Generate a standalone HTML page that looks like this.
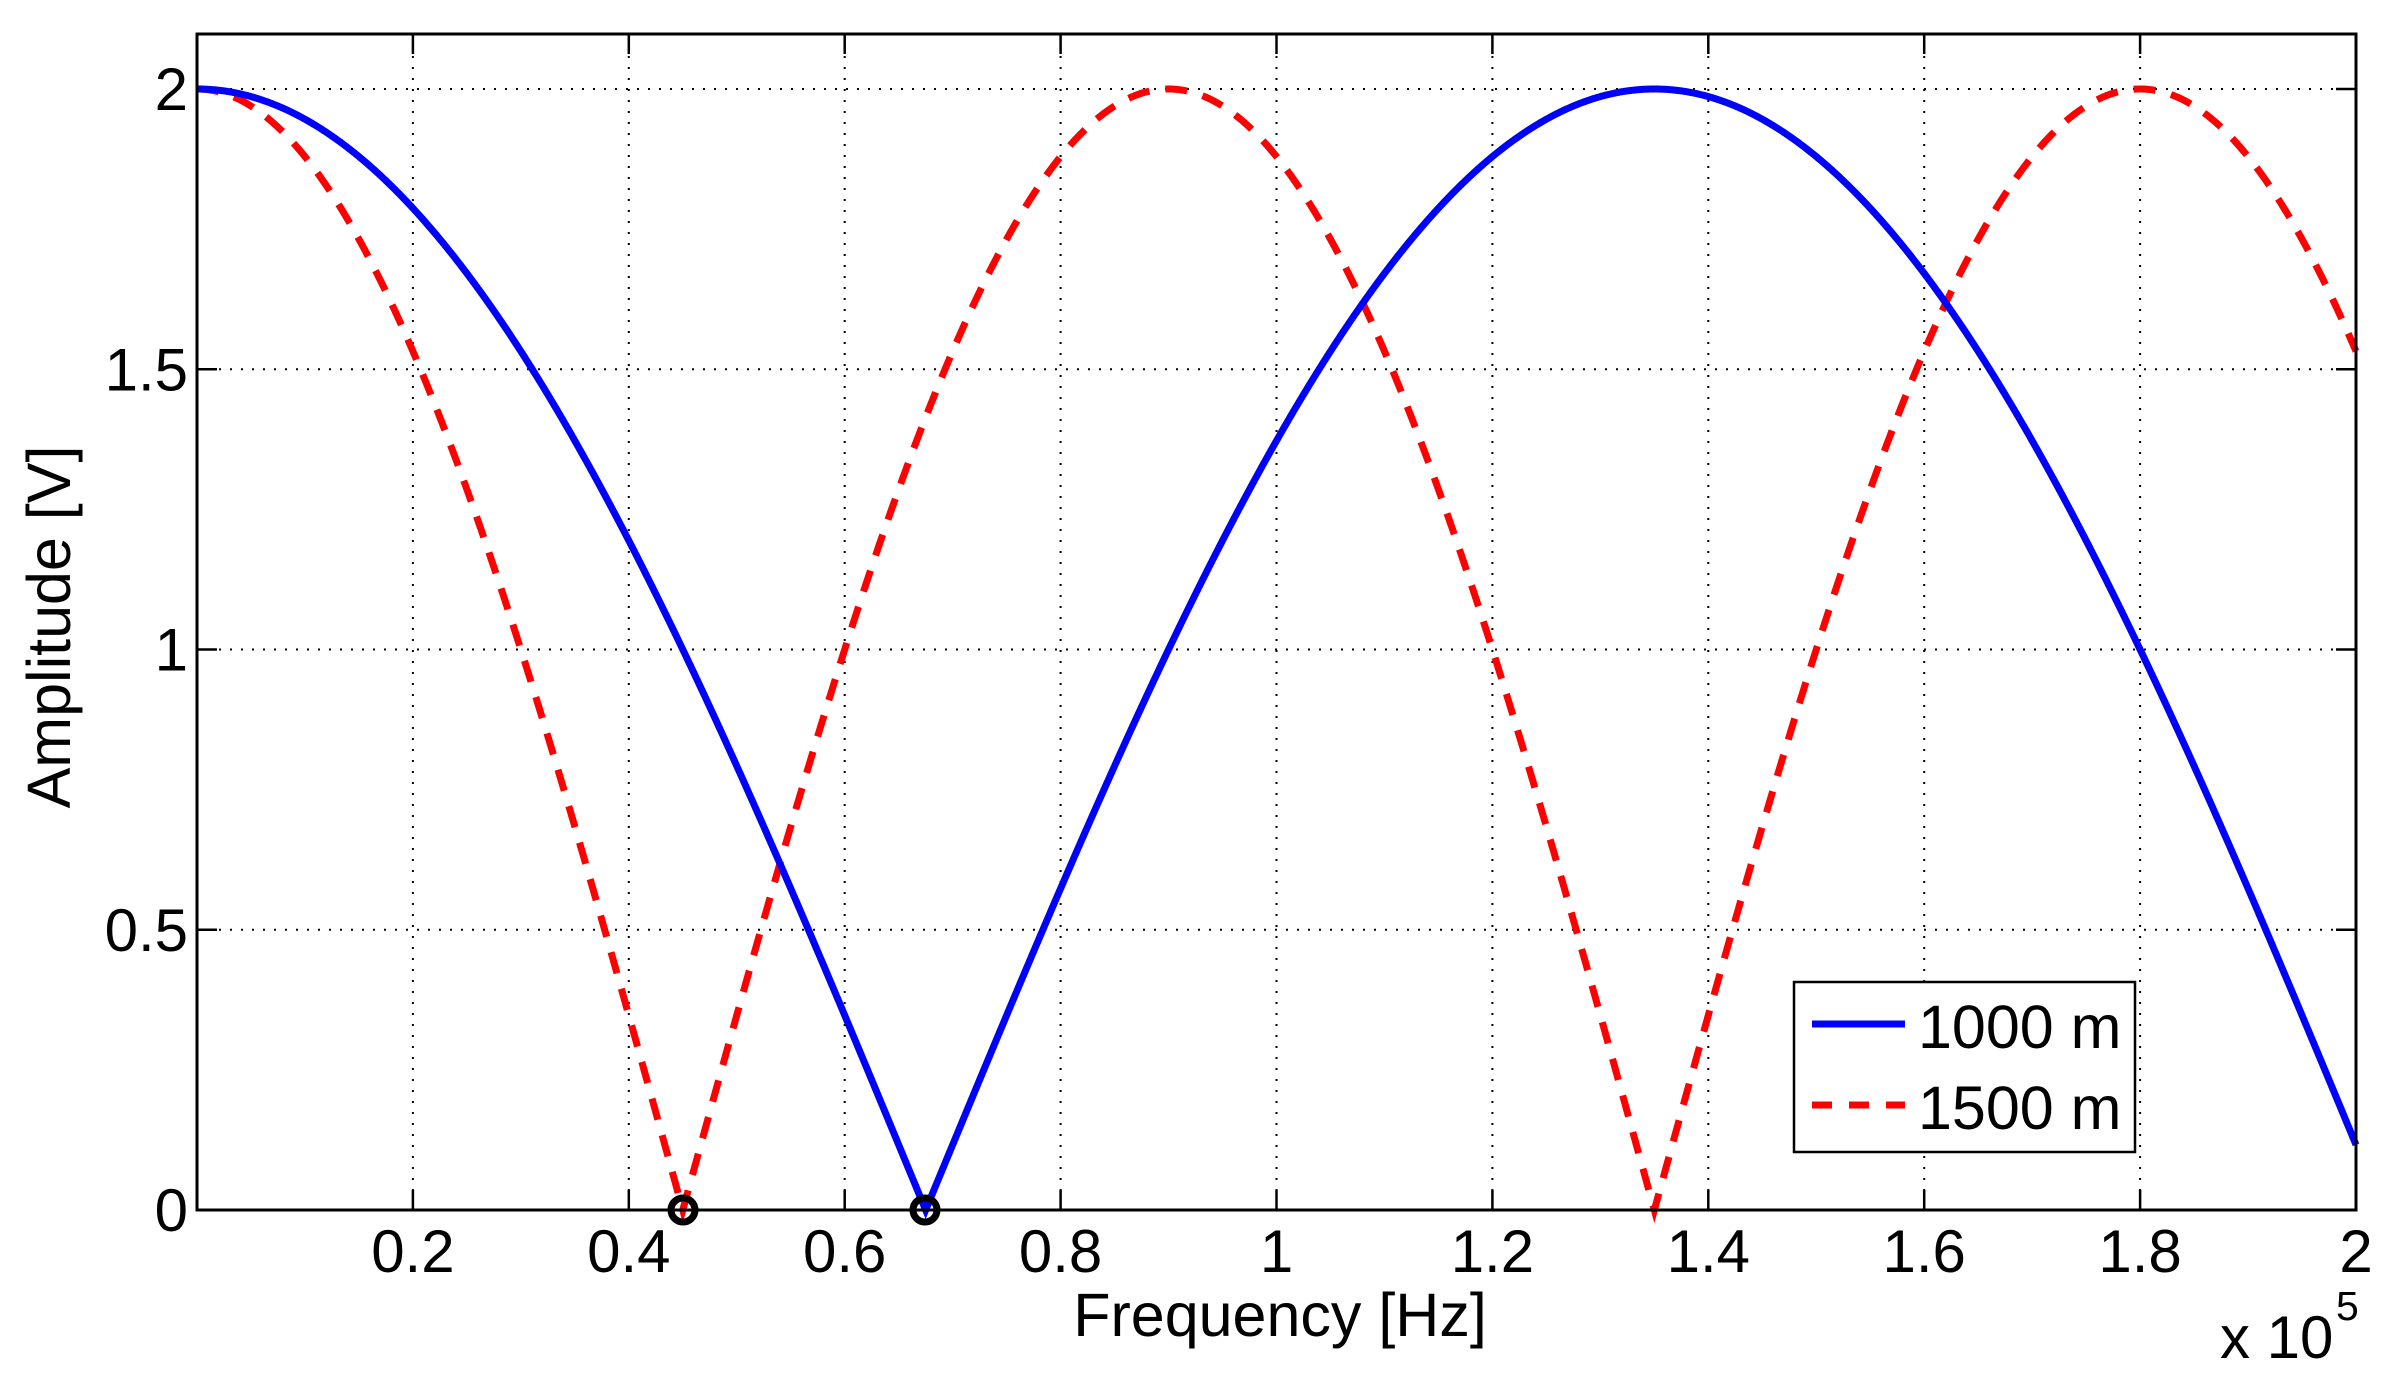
<!DOCTYPE html>
<html><head><meta charset="utf-8"><style>
html,body{margin:0;padding:0;background:#fff;}
svg{display:block;}
text{font-family:"Liberation Sans",Arial,sans-serif;fill:#000;}
</style></head><body>
<svg id="s" width="2397" height="1387" viewBox="0 0 2397 1387" xmlns="http://www.w3.org/2000/svg">
<rect width="2397" height="1387" fill="#fff"/>
<g id="grid" stroke="#000" stroke-width="2" stroke-dasharray="2,9" fill="none"></g>
<g id="ticks" stroke="#000" stroke-width="2.5" fill="none"></g>
<g id="lbl" font-size="60"></g>
<path id="red" fill="none" stroke="#ff0000" stroke-width="7" stroke-dasharray="22,16"/>
<path id="blue" fill="none" stroke="#0000ff" stroke-width="7"/>
<circle cx="683" cy="1210" r="12" fill="none" stroke="#000" stroke-width="7"/>
<circle cx="925" cy="1210" r="12" fill="none" stroke="#000" stroke-width="7"/>
<rect x="197" y="34" width="2159" height="1176" fill="none" stroke="#000" stroke-width="3"/>
<text x="1280" y="1336" font-size="61" text-anchor="middle">Frequency [Hz]</text>
<text x="0" y="0" font-size="61" text-anchor="middle" transform="translate(70,627) rotate(-90)">Amplitude [V]</text>
<text x="2220" y="1358" font-size="60">x 10</text>
<text x="2336" y="1320" font-size="41">5</text>
<rect x="1794" y="982" width="341" height="170" fill="#fff" stroke="#000" stroke-width="2.5"/>
<line x1="1812" y1="1024" x2="1905" y2="1024" stroke="#0000ff" stroke-width="7"/>
<line x1="1812" y1="1105" x2="1905" y2="1105" stroke="#ff0000" stroke-width="7" stroke-dasharray="20,17"/>
<text x="1918" y="1048" font-size="61">1000 m</text>
<text x="1918" y="1129" font-size="61">1500 m</text>
</svg>
<script>
var X0=197,X1=2356,Y0=1210,YS=560.5;
function px(f){return X0+(X1-X0)*f/2;}
function py(a){return Y0-a*YS;}
var ns="http://www.w3.org/2000/svg";
function el(p,t,a,txt){var e=document.createElementNS(ns,t);for(var k in a)e.setAttribute(k,a[k]);if(txt!==undefined)e.textContent=txt;document.getElementById(p).appendChild(e);}
for(var i=1;i<=10;i++){var x=px(i*0.2);
 if(i<10)el("grid","line",{x1:x,y1:34,x2:x,y2:1210});
 el("ticks","line",{x1:x,y1:1210,x2:x,y2:1190});el("ticks","line",{x1:x,y1:34,x2:x,y2:54});
 var s=(i*0.2).toFixed(1).replace(/\.0$/,"");
 el("lbl","text",{x:x,y:1272,"text-anchor":"middle"},s);}
for(var j=0;j<=4;j++){var v=j*0.5,y=py(v);
 if(j>0)el("grid","line",{x1:197,y1:y,x2:2356,y2:y});
 el("ticks","line",{x1:197,y1:y,x2:217,y2:y});el("ticks","line",{x1:2356,y1:y,x2:2336,y2:y});
 el("lbl","text",{x:188,y:y+21,"text-anchor":"end"},String(v));}
var b="",r="";
for(var k=0;k<=2000;k++){var f=k/1000;
 var a1=2*Math.abs(Math.cos(Math.PI*f/1.35)),a2=2*Math.abs(Math.cos(Math.PI*f/0.9));
 b+=(k?"L":"M")+px(f).toFixed(2)+","+py(a1).toFixed(2);
 r+=(k?"L":"M")+px(f).toFixed(2)+","+py(a2).toFixed(2);}
document.getElementById("blue").setAttribute("d",b);
document.getElementById("red").setAttribute("d",r);
</script>
</body></html>
